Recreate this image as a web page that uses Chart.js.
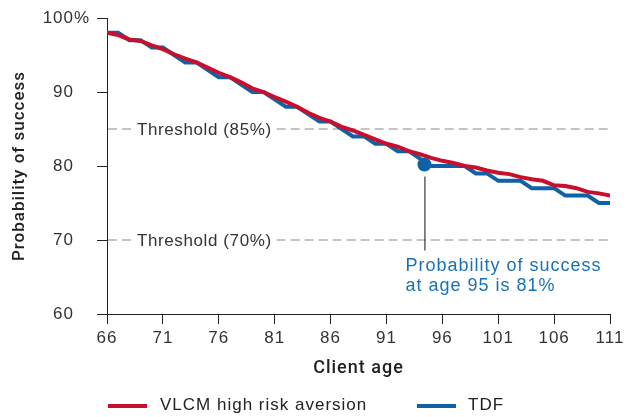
<!DOCTYPE html>
<html>
<head>
<meta charset="utf-8">
<script src="https://cdn.jsdelivr.net/npm/chart.js@4.4.1/dist/chart.umd.min.js"></script>
<style>
  html, body { margin: 0; padding: 0; background: #fff; }
  #wrap { width: 631px; height: 417px; position: relative; }
  #legend { position: absolute; left: 0; top: 394px; width: 631px; height: 22px;
    font: 17px 'Liberation Sans', Arial, sans-serif; letter-spacing: 1px; color: #222; }
  .lg-item { position: absolute; top: 0; height: 22px; line-height: 22px; white-space: nowrap; }
  .lg-line { position: absolute; top: 10px; width: 39px; height: 4px; }
  .lg-text { position: absolute; top: 0; }
</style>
</head>
<body>
<div id="wrap">
  <canvas id="chart" width="631" height="417"></canvas>
  <div id="legend"></div>
</div>
<script>
// ---- data ----
const ages = [66,67,68,69,70,71,72,73,74,75,76,77,78,79,80,81,82,83,84,85,86,87,88,89,90,
  91,92,93,94,95,96,97,98,99,100,101,102,103,104,105,106,107,108,109,110,111];

const vlcmHigh = [98.0,97.7,97.1,96.9,96.3,95.8,95.1,94.5,94.0,93.3,92.6,92.0,91.3,90.5,90.0,
  89.3,88.7,88.0,87.2,86.5,86.0,85.3,84.8,84.2,83.6,83.0,82.6,82.0,81.6,81.1,80.7,80.4,80.0,
  79.8,79.4,79.1,78.9,78.5,78.2,78.0,77.4,77.3,77.0,76.5,76.3,76.0];

const tdf = [98,98,97,97,96,96,95,94,94,93,92,92,91,90,90,89,88,88,87,86,86,85,84,84,83,
  83,82,82,81,80,80,80,80,79,79,78,78,78,77,77,77,76,76,76,75,75];

const seriesNames = ["VLCM high risk aversion", "TDF"];

const xTicks = [66,71,76,81,86,91,96,101,106,111];
const yTicks = [60,70,80,90,100];
const yTopLabel = "100%";   // the % hangs to the right of the number column

const thresholds = [85, 70];
const thresholdLabels = ["Threshold (85%)", "Threshold (70%)"];

const highlightAge = [94.4];
const highlightValue = [80.2];
const highlightNote = ["Probability of success", "at age 95 is 81%"];

const RED = "#c8102e";
const BLUE = "#0f62a6";
const NOTE_BLUE = "#1a72b4";
const FONT = "'Liberation Sans', Arial, sans-serif";
const TITLE_FONT = "Roboto, 'Liberation Sans', sans-serif";

const TICK_LEN = 10;
const Y_TICK_PAD = 23;

// ---- plugins ----

// the reference type is loosely tracked, so canvas text gets 1px spacing
const spacingPlugin = {
  id: "spacing",
  beforeLayout(chart){ chart.ctx.letterSpacing = "1px"; },
  beforeDraw(chart){ chart.ctx.letterSpacing = "1px"; }
};

const thresholdPlugin = {
  id: "thresholds",
  beforeDatasetsDraw(chart){
    const {ctx, chartArea, scales} = chart;
    ctx.save();
    ctx.font = "17px " + FONT;
    ctx.letterSpacing = "0.6px";
    ctx.textBaseline = "middle";
    thresholds.forEach((t, i)=>{
      const y = scales.y.getPixelForValue(t);
      const tx = chartArea.left + 30;
      const tw = ctx.measureText(thresholdLabels[i]).width;
      ctx.strokeStyle = "#c4c4c4";
      ctx.lineWidth = 2;
      ctx.setLineDash([9,5]);
      ctx.beginPath();
      ctx.moveTo(chartArea.left + 1, y);
      ctx.lineTo(tx - 4, y);
      ctx.moveTo(tx + tw + 5, y);
      ctx.lineTo(chartArea.right, y);
      ctx.stroke();
      ctx.fillStyle = "#333";
      ctx.fillText(thresholdLabels[i], tx, y + 1);
    });
    ctx.restore();
  }
};

const notePlugin = {
  id: "note",
  afterDatasetsDraw(chart){
    const {ctx, scales} = chart;
    const px = scales.x.getPixelForValue(highlightAge[0]);
    const py = scales.y.getPixelForValue(highlightValue[0]);
    ctx.save();
    ctx.strokeStyle = "#111";
    ctx.lineWidth = 1;
    ctx.beginPath();
    ctx.moveTo(px + 0.5, py + 12);
    ctx.lineTo(px + 0.5, py + 86);
    ctx.stroke();
    ctx.fillStyle = NOTE_BLUE;
    ctx.font = "18px " + FONT;
    ctx.textBaseline = "alphabetic";
    highlightNote.forEach((line, i)=>{
      ctx.fillText(line, px - 19, py + 106 + i * 20);
    });
    ctx.restore();
  },
  afterDraw(chart){
    // top y label: number lines up with the others, % sticks out
    const {ctx, scales} = chart;
    const y = scales.y.getPixelForValue(yTicks[yTicks.length - 1]);
    const right = scales.y.right - TICK_LEN - Y_TICK_PAD;
    ctx.save();
    ctx.font = "17px " + FONT;
    ctx.letterSpacing = "1px";
    ctx.fillStyle = "#333";
    ctx.textBaseline = "middle";
    const numW = ctx.measureText(String(yTicks[yTicks.length - 1])).width;
    ctx.fillText(yTopLabel, right - numW, y);
    ctx.restore();
  }
};

// ---- chart ----
const axisStyle = {
  grid: { drawOnChartArea: false, drawTicks: true, tickLength: TICK_LEN, color: "#222" },
  border: { display: true, color: "#222", width: 1 }
};

new Chart(document.getElementById("chart"), {
  type: "line",
  data: {
    datasets: [
      {
        label: seriesNames[0],
        data: ages.map((a,i)=>({x:a, y:vlcmHigh[i]})),
        borderColor: RED,
        backgroundColor: RED,
        borderWidth: 4,
        pointRadius: 0,
        tension: 0
      },
      {
        label: seriesNames[1],
        data: ages.map((a,i)=>({x:a, y:tdf[i]})),
        borderColor: BLUE,
        backgroundColor: BLUE,
        borderWidth: 4,
        pointRadius: 0,
        tension: 0
      },
      {
        label: "highlight",
        type: "scatter",
        data: highlightAge.map((a,i)=>({x:a, y:highlightValue[i]})),
        pointRadius: 7,
        pointBackgroundColor: BLUE,
        pointBorderWidth: 0,
        showLine: false,
        order: -1
      }
    ]
  },
  options: {
    responsive: false,
    animation: false,
    devicePixelRatio: 1,
    layout: { padding: { left: 10, right: 21, top: 18, bottom: 38 } },
    plugins: {
      tooltip: { enabled: false },
      legend: { display: false }
    },
    scales: {
      x: {
        type: "linear",
        min: 66,
        max: 111,
        afterBuildTicks: s => { s.ticks = xTicks.map(v=>({value:v})); },
        ticks: { color: "#333", padding: 4, maxRotation: 0, font: { family: FONT, size: 17 } },
        title: { display: true, text: "Client age", color: "#222", padding: { top: 5, bottom: 0 },
          font: { family: TITLE_FONT, size: 18, weight: "500" } },
        ...axisStyle
      },
      y: {
        min: 60,
        max: 100,
        afterBuildTicks: s => { s.ticks = yTicks.map(v=>({value:v})); },
        // fixed width; tick padding must not push the plot top down
        afterFit: s => { s.width = 97; s.paddingTop = 0; s.paddingBottom = 0; },
        ticks: { color: "#333", padding: Y_TICK_PAD, font: { family: FONT, size: 17 },
          callback: v => v === 100 ? "" : v },
        title: { display: true, text: "Probability of success", color: "#222", padding: 0,
          font: { family: TITLE_FONT, size: 17, weight: "500" } },
        ...axisStyle
      }
    }
  },
  plugins: [spacingPlugin, thresholdPlugin, notePlugin]
});

// ---- legend (html, placed under the axis title) ----
const legendPos = [{line: 108, text: 160}, {line: 417, text: 468}];
const legendColors = [RED, BLUE];
const legendEl = document.getElementById("legend");
seriesNames.forEach((name, i)=>{
  const item = document.createElement("div");
  item.className = "lg-item";
  item.style.left = legendPos[i].line + "px";
  item.innerHTML = `
    <span class="lg-line" style="left:0;background:${legendColors[i]}"></span>
    <span class="lg-text" style="left:${legendPos[i].text - legendPos[i].line}px">${name}</span>
  `;
  legendEl.appendChild(item);
});
</script>
</body>
</html>
